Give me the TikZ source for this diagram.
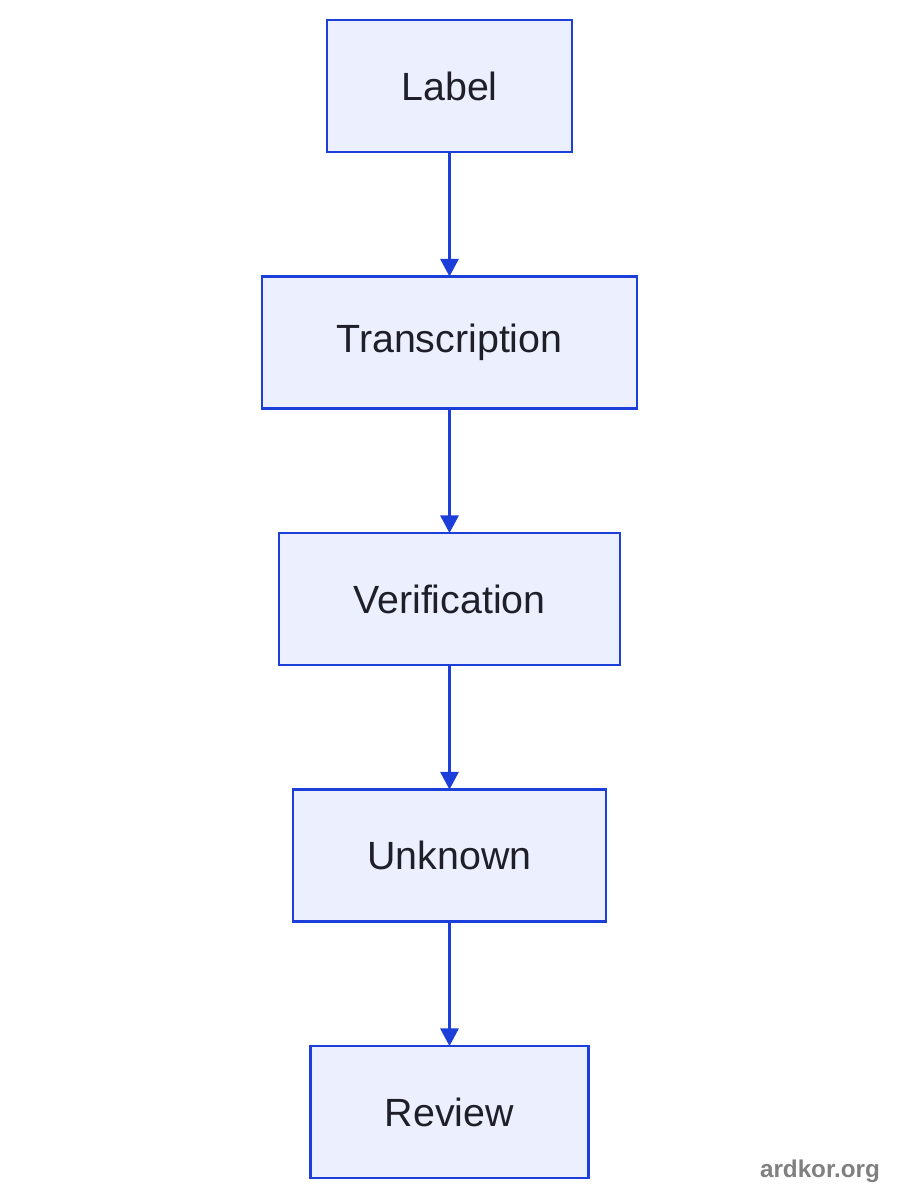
\documentclass[tikz,border=0pt]{standalone}
\usepackage{fontspec}
\setmainfont{Liberation Sans}
\usetikzlibrary{positioning,arrows.meta}

\definecolor{flowblue}{HTML}{1D3FD9}
\definecolor{flowfill}{HTML}{ECEFFE}
\definecolor{flowtext}{HTML}{1E1F29}
\definecolor{markgray}{HTML}{808080}

\tikzset{
    stepbox/.style={draw=flowblue, fill=flowfill, line width=0.6pt, text=flowtext,
        minimum height=1.32cm, inner sep=0pt, outer sep=0pt, font=\fontsize{11.2}{13}\selectfont},
    flowarrow/.style={draw=flowblue, line width=0.6pt, -{Triangle[length=5pt,width=5.2pt]}}
}

\begin{document}
\begin{tikzpicture}
    % Page frame, 1 unit = 100 px
    \useasboundingbox[fill=white] (0,0) rectangle (9,12);

    % Boxes of the chain, top to bottom
    \node[stepbox, minimum width=2.45cm] (label) at (4.495,11.14) {Label};
    \node[stepbox, minimum width=3.75cm, below=1.245 of label] (transcription) {Transcription};
    \node[stepbox, minimum width=3.41cm, below=1.245 of transcription] (verification) {Verification};
    \node[stepbox, minimum width=3.13cm, below=1.245 of verification] (unknown) {Unknown};
    \node[stepbox, minimum width=2.78cm, below=1.245 of unknown] (review) {Review};

    % Arrows between boxes
    \foreach \a/\b in {label/transcription, transcription/verification,
                       verification/unknown, unknown/review}
        \draw[flowarrow] (\a) -- (\b);

    % Site mark in the lower right corner
    \node[text=markgray, font=\fontsize{6.9}{8}\selectfont\bfseries] (mark) at (8.2,0.29) {ardkor.org};
\end{tikzpicture}
\end{document}
